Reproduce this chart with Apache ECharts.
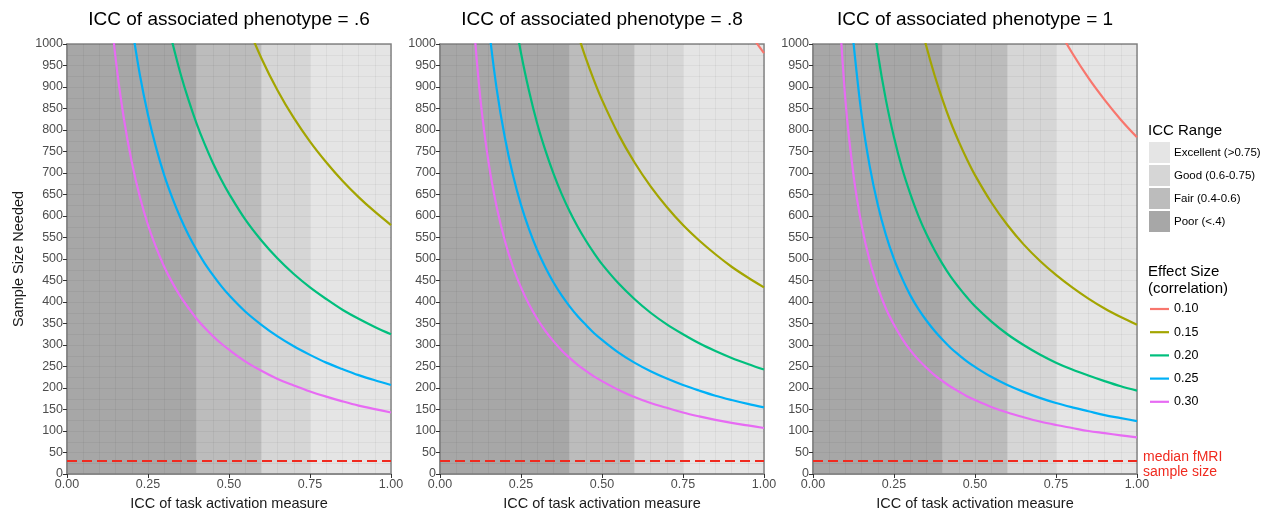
<!DOCTYPE html>
<html>
<head>
<meta charset="utf-8">
<script src="https://cdn.jsdelivr.net/npm/echarts@6/dist/echarts.min.js"></script>
<style>
html,body{margin:0;padding:0;background:#fff;}
#chart{width:1269px;height:516px;}
</style>
</head>
<body>
<div id="chart"></div>
<script>
const N = null;
// ICC of task activation (x values)
const iccTask = [0.05,0.075,0.1,0.125,0.15,0.175,0.2,0.225,0.25,0.275,0.3,0.325,0.35,0.375,0.4,0.425,0.45,0.475,0.5,0.55,0.6,0.65,0.7,0.75,0.8,0.85,0.9,0.95,1.0];

const panelTitles = ['ICC of associated phenotype = .6','ICC of associated phenotype = .8','ICC of associated phenotype = 1'];
const effectNames = ['0.10','0.15','0.20','0.25','0.30'];
const effectColors = ['#F8766D','#A3A500','#00BF7D','#00B0F6','#E76BF3'];

// Panel: phenotype ICC = .6
const p6_r10 = [N,N,N,N,N,N,N,N,N,N,N,N,N,N,N,N,N,N,N,N,N,N,N,N,N,N,N,N,N];
const p6_r15 = [N,N,N,N,N,N,N,N,N,N,N,N,N,N,N,N,N,N,N,1055,967,892,828,773,725,682,644,610,579];
const p6_r20 = [N,N,N,N,N,N,N,N,N,N,N,1004,932,870,815,767,724,686,652,592,543,501,465,434,407,382,361,342,325];
const p6_r25 = [N,N,N,N,N,N,1044,928,835,759,695,642,596,556,521,490,463,438,416,378,347,320,297,277,259,244,230,218,207];
const p6_r30 = [N,N,N,1161,967,829,725,644,579,527,482,445,413,386,361,340,321,304,289,262,240,221,206,192,180,169,159,151,143];

// Panel: phenotype ICC = .8
const p8_r10 = [N,N,N,N,N,N,N,N,N,N,N,N,N,N,N,N,N,N,N,N,N,N,N,N,N,N,N,1030,979];
const p8_r15 = [N,N,N,N,N,N,N,N,N,N,N,N,N,N,N,1024,967,916,870,791,725,669,621,579,543,511,482,457,434];
const p8_r20 = [N,N,N,N,N,N,N,1088,979,890,815,753,699,652,611,575,543,514,488,444,407,375,348,325,304,286,270,256,243];
const p8_r25 = [N,N,N,N,1044,895,783,696,626,569,521,481,446,416,390,367,347,328,312,283,259,239,222,207,194,182,172,163,155];
const p8_r30 = [N,N,1088,870,724,621,543,482,434,394,361,333,309,288,270,254,240,227,216,196,179,165,154,143,134,126,119,113,107];

// Panel: phenotype ICC = 1
const p10_r10 = [N,N,N,N,N,N,N,N,N,N,N,N,N,N,N,N,N,N,N,N,N,N,N,1044,979,921,870,824,783];
const p10_r15 = [N,N,N,N,N,N,N,N,N,N,N,1071,994,928,870,818,773,732,695,632,579,534,496,463,434,408,385,365,347];
const p10_r20 = [N,N,N,N,N,1119,979,870,783,711,652,601,558,521,488,459,434,411,390,355,325,300,278,259,243,229,216,204,194];
const p10_r25 = [N,N,N,1003,835,716,626,556,500,455,416,384,357,333,312,293,277,262,249,226,207,191,177,165,155,146,137,130,123];
const p10_r30 = [N,1160,870,695,579,496,434,385,347,315,288,266,247,230,216,203,192,181,172,156,143,132,122,114,107,100,95,90,85];

const panels = [
  [p6_r10,p6_r15,p6_r20,p6_r25,p6_r30],
  [p8_r10,p8_r15,p8_r20,p8_r25,p8_r30],
  [p10_r10,p10_r15,p10_r20,p10_r25,p10_r30]
];

// ICC range bands
const bandNames = ['Excellent (>0.75)','Good (0.6-0.75)','Fair (0.4-0.6)','Poor (<.4)'];
const bandRanges = [[0.75,1.0],[0.6,0.75],[0.4,0.6],[0.0,0.4]];
const bandColors = ['#e5e5e5','#d6d6d6','#bcbcbc','#a7a7a7'];

const medianFMRI = 30;
const xTicks = [0, 0.25, 0.5, 0.75, 1];

const FONT = "'Liberation Sans', Arial, sans-serif";
const gridLefts = [67, 440, 813];
const GW = 324, GT = 44, GH = 435;
const GRIDC = 'rgba(0,0,0,0.045)';

const chart = echarts.init(document.getElementById('chart'));

const grids = [], xAxes = [], yAxes = [], series = [], graphics = [];
gridLefts.forEach((l, i) => {
  grids.push({left: l, top: GT, width: GW, height: GH, show: true, z: 2.5, borderColor: '#858585', borderWidth: 1.5, backgroundColor: 'transparent', containLabel: false});
  xAxes.push({
    type: 'value', gridIndex: i, min: xTicks[0], max: xTicks[xTicks.length-1], interval: 0.25, z: 2.5,
    axisLine: {show: true, onZero: false, lineStyle: {color: '#858585', width: 1.5}},
    axisTick: {show: true, length: 4, lineStyle: {color: '#333'}},
    axisLabel: {color: '#4d4d4d', fontSize: 12.5, fontFamily: FONT, margin: 4, formatter: v => v.toFixed(2)},
    splitLine: {show: true, lineStyle: {color: GRIDC, width: 1}},
    minorSplitLine: {show: true, lineStyle: {color: GRIDC, width: 1}},
    minorTick: {show: false, splitNumber: 5},
    name: 'ICC of task activation measure', nameLocation: 'middle', nameGap: 22,
    nameTextStyle: {fontSize: 14.5, color: '#1a1a1a', fontFamily: FONT}
  });
  yAxes.push({
    type: 'value', gridIndex: i, min: 0, max: 1000, interval: 50, z: 2.5,
    axisLine: {show: true, lineStyle: {color: '#858585', width: 1.5}},
    axisTick: {show: true, length: 4, lineStyle: {color: '#333'}},
    axisLabel: {color: '#4d4d4d', fontSize: 12.5, fontFamily: FONT, margin: 4, formatter: v => String(v)},
    splitLine: {show: true, lineStyle: {color: GRIDC, width: 1}},
    minorSplitLine: {show: true, lineStyle: {color: GRIDC, width: 1}},
    minorTick: {show: false, splitNumber: 2},
    name: i === 0 ? 'Sample Size Needed' : '', nameLocation: 'middle', nameGap: 41, nameRotate: 90,
    nameTextStyle: {fontSize: 14.5, color: '#1a1a1a', fontFamily: FONT}
  });
  // bands
  series.push({
    type: 'line', xAxisIndex: i, yAxisIndex: i, data: [], z: 1, silent: true,
    markArea: {silent: true, z: 1, data: bandRanges.map((r, k) => [{xAxis: r[0], itemStyle: {color: bandColors[k], opacity: 1}}, {xAxis: r[1]}])}
  });
  // curves
  panels[i].forEach((vals, k) => {
    series.push({
      name: effectNames[k], type: 'line', xAxisIndex: i, yAxisIndex: i,
      data: iccTask.map((x, j) => [x, vals[j]]),
      showSymbol: false, symbol: 'none', smooth: 0.35, clip: true,
      lineStyle: {color: effectColors[k], width: 2.2}, itemStyle: {color: effectColors[k]}, z: 3
    });
  });
  // median fMRI sample size line
  series.push({
    type: 'line', xAxisIndex: i, yAxisIndex: i, data: [], z: 4, silent: true,
    markLine: {silent: true, z: 4, symbol: ['none','none'], label: {show: false},
      lineStyle: {color: '#f02a1f', width: 2, type: [10, 5]},
      data: [{yAxis: medianFMRI}]}
  });
  graphics.push({type: 'text', style: {text: panelTitles[i], x: l + GW/2, y: 20, font: `19px ${FONT}`, fill: '#000', textAlign: 'center', textVerticalAlign: 'middle'}});
});

// Legends
const LX = 1148;
graphics.push({type: 'text', style: {text: 'ICC Range', x: LX, y: 131, font: `15px ${FONT}`, fill: '#000', textVerticalAlign: 'middle'}});
bandNames.forEach((n, k) => {
  const y = 142 + k * 23;
  graphics.push({type: 'rect', shape: {x: LX + 1, y: y, width: 21, height: 21}, style: {fill: bandColors[k]}});
  graphics.push({type: 'text', style: {text: n, x: LX + 26, y: y + 11, font: `11.5px ${FONT}`, fill: '#000', textVerticalAlign: 'middle'}});
});
graphics.push({type: 'text', style: {text: 'Effect Size', x: LX, y: 272, font: `15px ${FONT}`, fill: '#000', textVerticalAlign: 'middle'}});
graphics.push({type: 'text', style: {text: '(correlation)', x: LX, y: 289, font: `15px ${FONT}`, fill: '#000', textVerticalAlign: 'middle'}});
effectNames.forEach((n, k) => {
  const y = 309 + k * 23.2;
  graphics.push({type: 'line', shape: {x1: LX + 2, y1: y, x2: LX + 21, y2: y}, style: {stroke: effectColors[k], lineWidth: 2.2}});
  graphics.push({type: 'text', style: {text: n, x: LX + 26, y: y, font: `12.5px ${FONT}`, fill: '#000', textVerticalAlign: 'middle'}});
});
graphics.push({type: 'text', style: {text: 'median fMRI', x: 1143, y: 457, font: `14px ${FONT}`, fill: '#f02a1f', textVerticalAlign: 'middle'}});
graphics.push({type: 'text', style: {text: 'sample size', x: 1143, y: 472, font: `14px ${FONT}`, fill: '#f02a1f', textVerticalAlign: 'middle'}});

chart.setOption({
  animation: false,
  grid: grids, xAxis: xAxes, yAxis: yAxes, series: series, graphic: graphics
});
</script>
</body>
</html>
